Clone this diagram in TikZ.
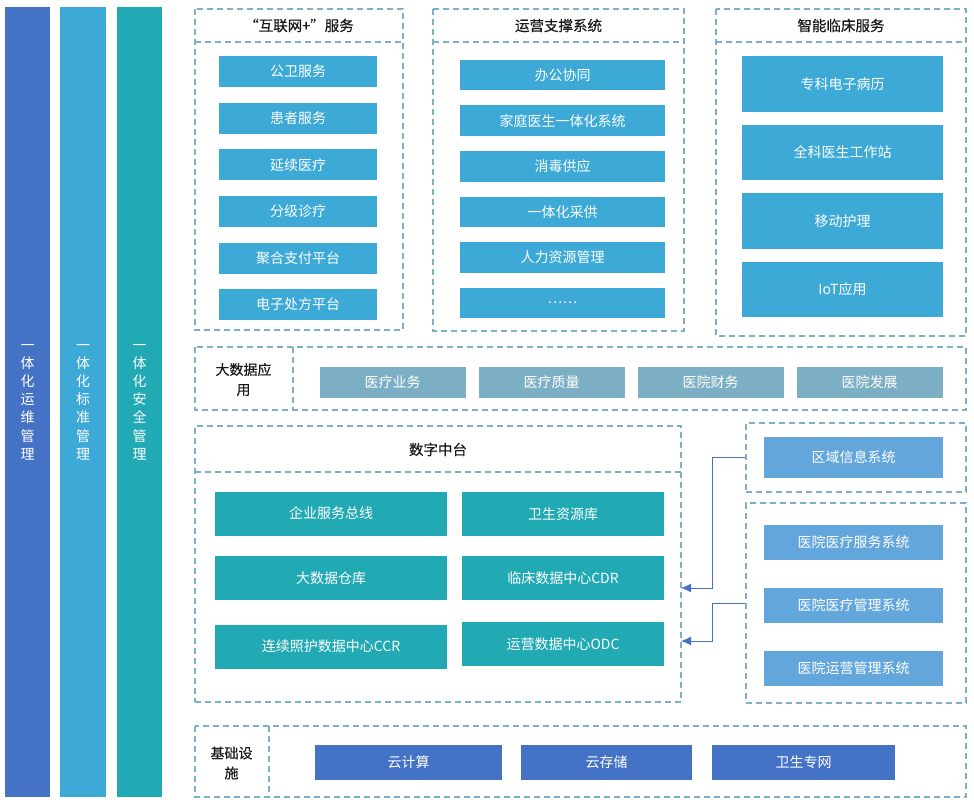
\documentclass[tikz,border=0pt]{standalone}
\usepackage{fontspec}
\setmainfont{Noto Sans CJK SC}
\newfontfamily\titulofont[FakeBold=0.4]{Noto Sans CJK SC}
\usetikzlibrary{arrows.meta}

\definecolor{azul}{HTML}{4472C4}
\definecolor{celeste}{HTML}{3DA9D6}
\definecolor{verdeazul}{HTML}{21A9B4}
\definecolor{cinzaazul}{HTML}{7CAFC4}
\definecolor{azulclaro}{HTML}{62A6DB}
\definecolor{borda}{HTML}{7DAFC8}

\tikzset{
  bloco/.style={fill=#1, text=white, inner sep=0pt, font=\fontsize{14}{17}\selectfont},
  painel/.style={draw=borda, line width=1.5pt, dash pattern=on 6pt off 4pt},
  titulo/.style={text=black!90, inner sep=0pt, font=\titulofont\fontsize{14.5}{20}\selectfont},
  seta/.style={azul, line width=0.8pt, -{Latex[length=10pt,width=9pt]}},
}

\begin{document}
\begin{tikzpicture}[x=1pt,y=-1pt]
\useasboundingbox (0,0) rectangle (974,809);

% colunas laterais
\node[bloco=azul, minimum width=45pt, minimum height=790pt, align=center,
  font=\fontsize{14}{18.2}\selectfont] (col1) at (27.5,402) {一\\体\\化\\运\\维\\管\\理};
\node[bloco=celeste, minimum width=46pt, minimum height=790pt, align=center,
  font=\fontsize{14}{18.2}\selectfont] (col2) at (83,402) {一\\体\\化\\标\\准\\管\\理};
\node[bloco=verdeazul, minimum width=45pt, minimum height=790pt, align=center,
  font=\fontsize{14}{18.2}\selectfont] (col3) at (139.5,402) {一\\体\\化\\安\\全\\管\\理};

% painéis de cima
\draw[painel] (195,9) rectangle (403,330);
\draw[painel] (195,42) -- (403,42);
\draw[painel] (433,9) rectangle (684,331);
\draw[painel] (433,42) -- (684,42);
\draw[painel] (716,9) rectangle (966,336);
\draw[painel] (716,42) -- (966,42);

\node[titulo] (tnet) at (299,25.5) {“互联网+”服务};
\node[titulo] (top) at (558.5,25.5) {运营支撑系统};
\node[titulo] (tcli) at (841,25.5) {智能临床服务};

\foreach \t [count=\i] in {公卫服务, 患者服务, 延续医疗, 分级诊疗, 聚合支付平台, 电子处方平台} {
  \node[bloco=celeste, minimum width=158pt, minimum height=31pt] (net\i) at (298,25+46.6*\i) {\t};
}
\foreach \t [count=\i] in {办公协同, 家庭医生一体化系统, 消毒供应, 一体化采供, 人力资源管理, ……} {
  \node[bloco=celeste, minimum width=205pt, minimum height=30.5pt] (op\i) at (562.5,29.5+45.6*\i) {\t};
}
\foreach \t [count=\i] in {专科电子病历, 全科医生工作站, 移动护理, IoT应用} {
  \node[bloco=celeste, minimum width=201pt, minimum height=55.5pt] (cli\i) at (842.5,15.5+68.5*\i) {\t};
}

% big data
\draw[painel] (195,347) rectangle (966,410);
\draw[painel] (293,347) -- (293,410);
\node[titulo, align=center, font=\titulofont\fontsize{14}{20}\selectfont] (tbig) at (243.5,379.5) {大数据应\\用};
\foreach \t [count=\i] in {医疗业务, 医疗质量, 医院财务, 医院发展} {
  \node[bloco=cinzaazul, minimum width=146pt, minimum height=31pt] (big\i) at (233.5+159*\i,382.5) {\t};
}

% 数字中台
\node[painel, minimum width=486pt, minimum height=276pt] (dzt) at (438,564) {};
\draw[painel] (195,472) -- (681,472);
\node[titulo] (tdzt) at (438,449.5) {数字中台};
\foreach \x/\y/\w/\t [count=\i] in {331/513.5/232/企业服务总线, 563/514/202/卫生资源库,
    331/578/232/大数据仓库, 563/578/202/临床数据中心CDR,
    331/646.5/232/连续照护数据中心CCR, 563/644/202/运营数据中心ODC} {
  \node[bloco=verdeazul, minimum width=\w pt, minimum height=44pt] (dz\i) at (\x,\y) {\t};
}

% sistemas externos
\node[painel, minimum width=220pt, minimum height=69pt] (regiao) at (856,457.5) {};
\node[bloco=azulclaro, minimum width=179pt, minimum height=41pt] (reg1) at (853.5,457.5) {区域信息系统};
\node[painel, minimum width=220pt, minimum height=200pt] (hosp) at (856,603) {};
\foreach \t [count=\i] in {医院医疗服务系统, 医院医疗管理系统, 医院运营管理系统} {
  \node[bloco=azulclaro, minimum width=179pt, minimum height=35pt] (hos\i) at (853.5,479+63*\i) {\t};
}

% setas
\coordinate (ent1) at (681,588);
\coordinate (ent2) at (681,641);
\draw[seta] (regiao.west) -- ++(-33,0) |- (ent1);
\draw[seta] (hosp.west) -- ++(-33,0) |- (ent2);

% infraestrutura
\draw[painel] (195,726) rectangle (966,797);
\draw[painel] (269,726) -- (269,797);
\node[titulo, align=center, font=\titulofont\fontsize{14}{20}\selectfont] (tbase) at (231.5,763) {基础设\\施};
\node[bloco=azul, minimum width=187pt, minimum height=35pt] (base1) at (408.5,762.5) {云计算};
\node[bloco=azul, minimum width=171pt, minimum height=35pt] (base2) at (606.5,762.5) {云存储};
\node[bloco=azul, minimum width=183pt, minimum height=35pt] (base3) at (803.5,762.5) {卫生专网};

\end{tikzpicture}
\end{document}
